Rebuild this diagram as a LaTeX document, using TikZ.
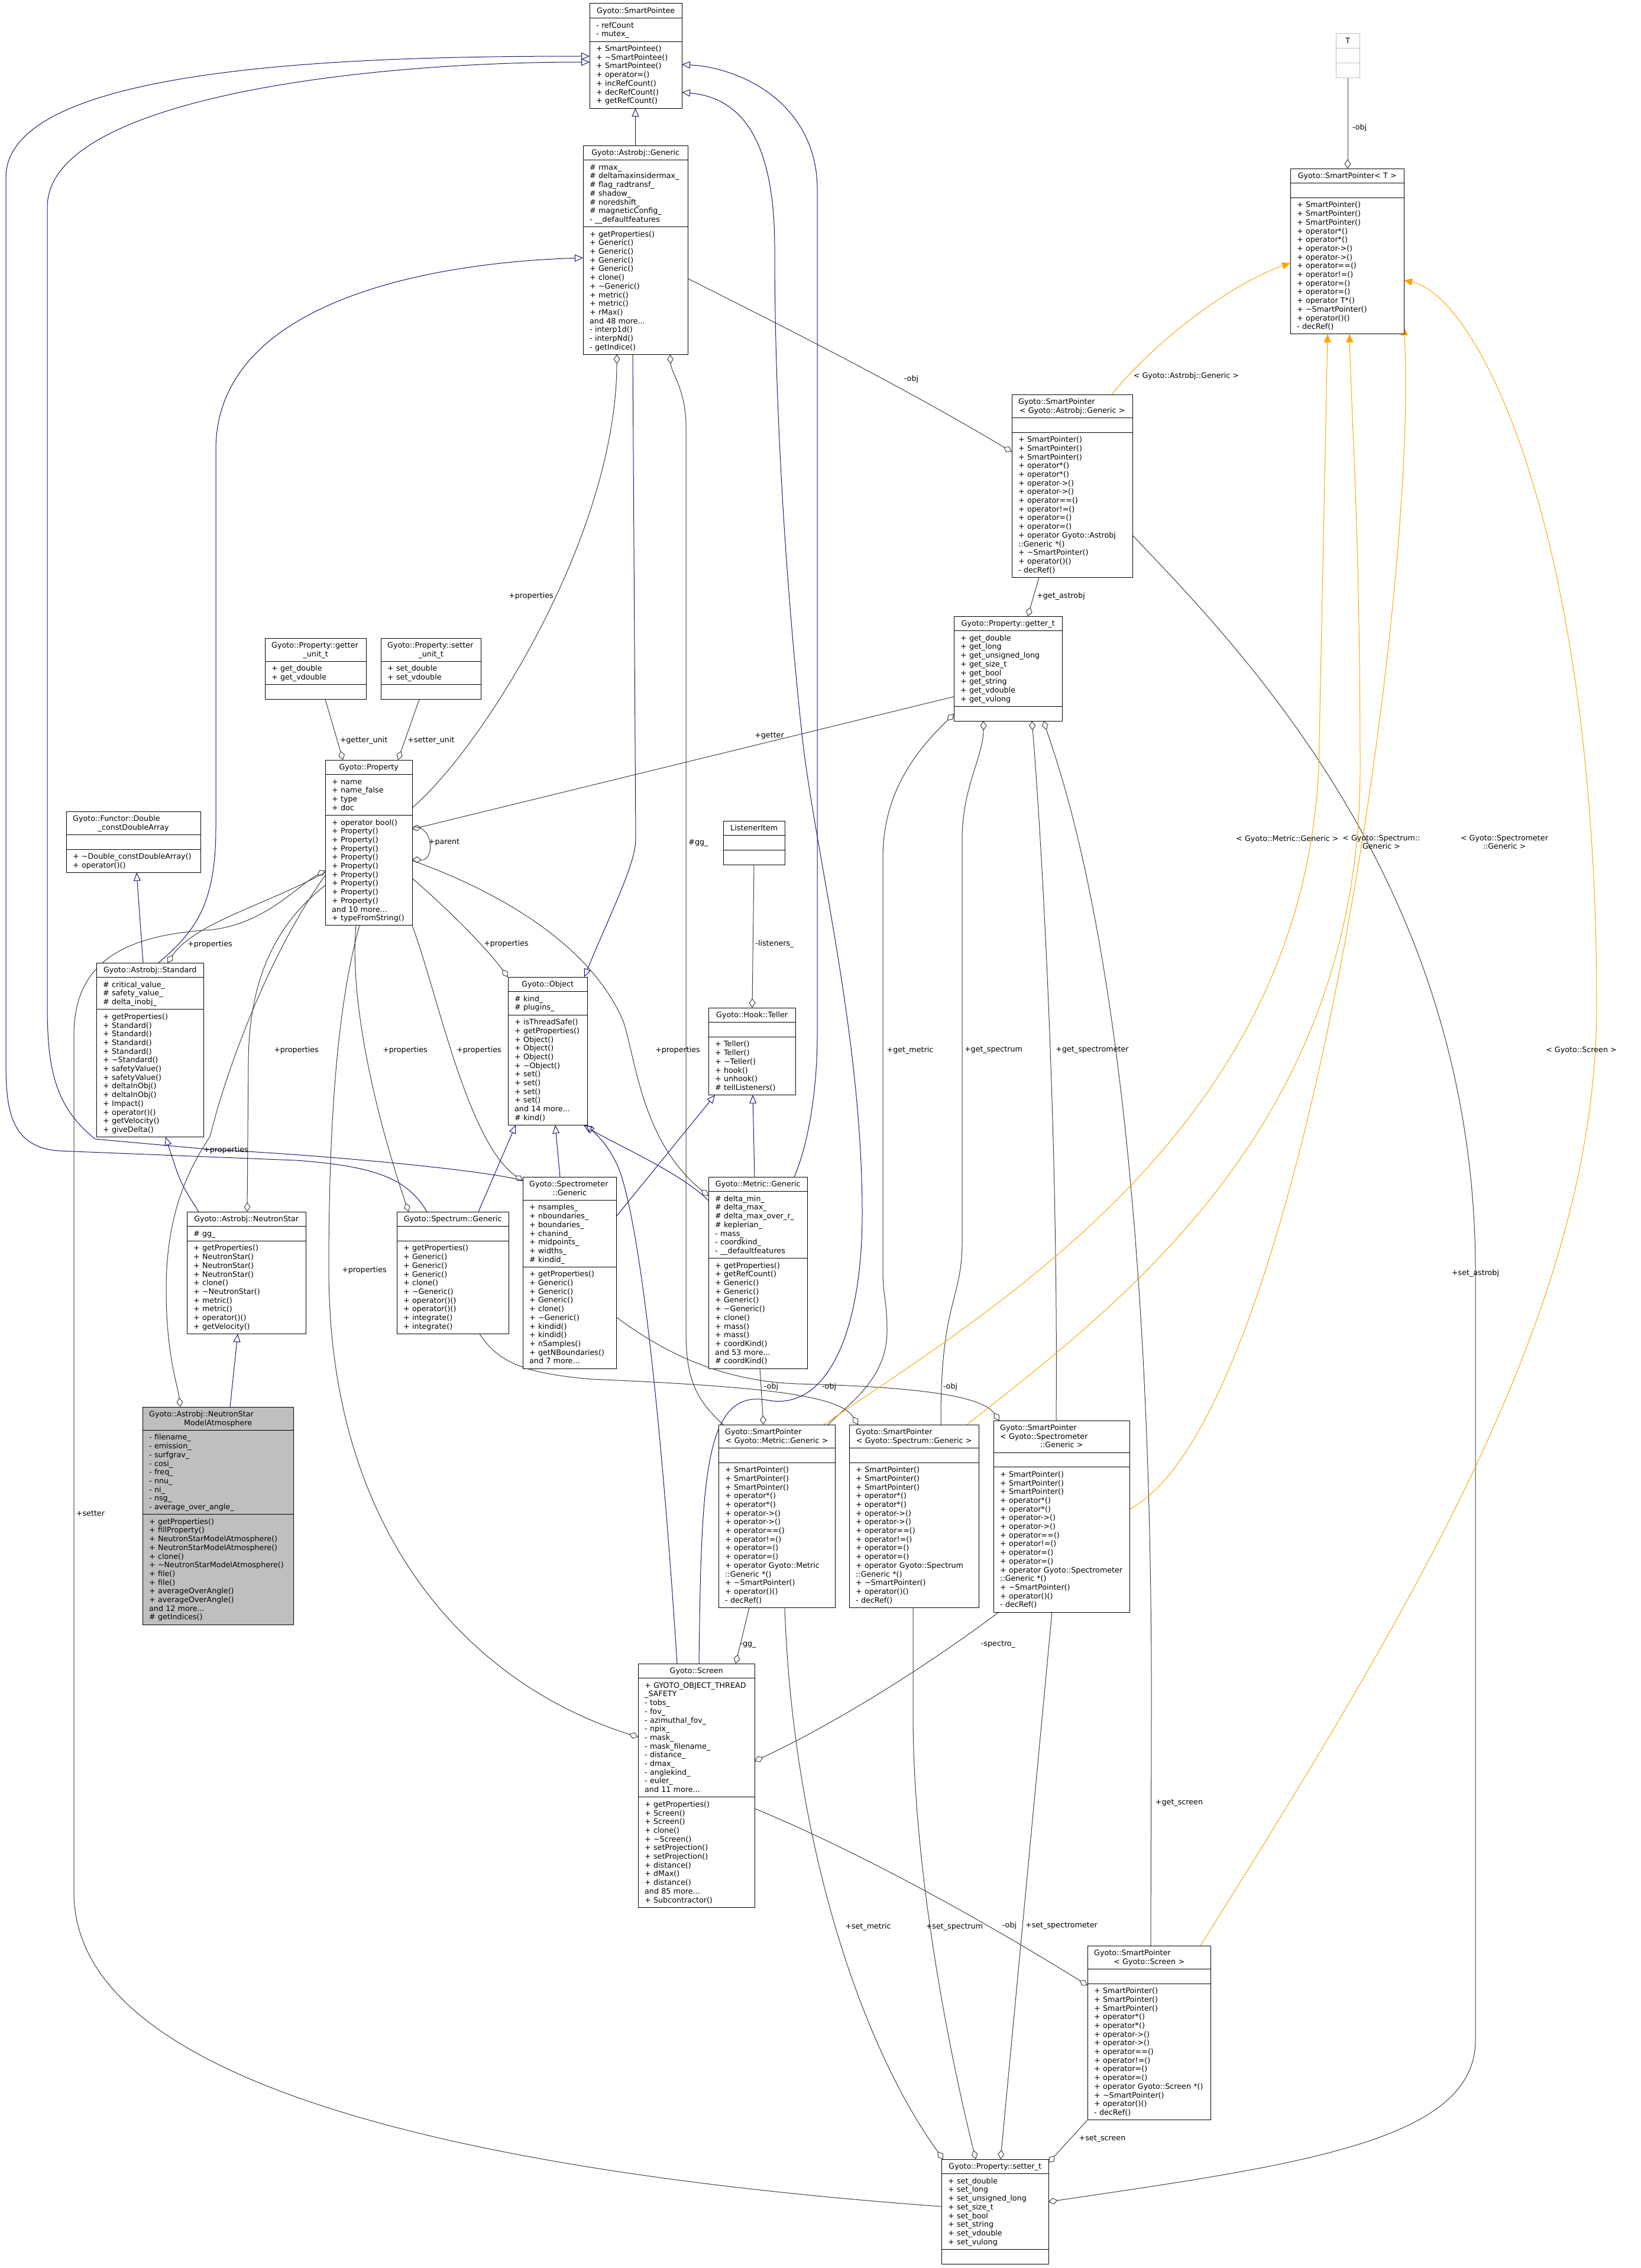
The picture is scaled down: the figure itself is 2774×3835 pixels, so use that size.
\documentclass[tikz,border=0pt]{standalone}
\usepackage{fontspec}
\setmainfont{DejaVu Sans}
\usetikzlibrary{arrows.meta,calc}
\pgfdeclarelayer{background}
\pgfdeclarelayer{edges}
\pgfsetlayers{background,edges,main}
\definecolor{navy}{HTML}{191970}
\definecolor{egrey}{HTML}{404040}
\definecolor{tmplc}{HTML}{FFA500}
\definecolor{tgrey}{HTML}{BFBFBF}
\definecolor{gfill}{HTML}{BFBFBF}
\newcommand\clsfont{\fontsize{12.7}{14.7}\selectfont\lineskiplimit=-20pt\parindent=0pt}
\newcommand\strutA{\rule{0pt}{11.3pt}}
\newcommand\tld{\textasciitilde}
\newcommand\ctr[1]{\makebox[\hsize]{#1}}
\def\umlparse#1,#2,#3\relax{\def\ux{#1}\def\uy{#2}\def\uw{#3}}
\def\umlparseN#1,#2,#3\relax{\def\una{#1}\def\unb{#2}\def\unc{#3}}
% #1 name, #2 x,y,w  #3 n1,n2,n3  #4 style  #5 title #6 attrs #7 methods
\newcommand{\umlclass}[7]{%
  \umlparse#2\relax\umlparseN#3\relax
  \pgfmathsetmacro\uHa{\una*14.7+10}%
  \pgfmathsetmacro\uHb{\unb*14.7+10}%
  \pgfmathsetmacro\uHc{\unc*14.7+10}%
  \pgfmathsetmacro\uHt{\uHa+\uHb+\uHc}%
  \pgfmathsetmacro\uYb{\uy+\uHa}%
  \pgfmathsetmacro\uYc{\uy+\uHa+\uHb}%
  \pgfmathsetmacro\uTw{\uw-22}%
  \pgfmathsetmacro\uLw{\uw+100}%
  \node[cls,#4,minimum width=\uw pt,minimum height=\uHt pt] (#1) at (\ux,\uy) {};
  \draw[clsline,#4] (\ux,\uYb) -- ++(\uw,0);
  \draw[clsline,#4] (\ux,\uYc) -- ++(\uw,0);
  \node[txt,text width=\uTw pt] (#1-t) at (\ux+11,\uy+5) {\strutA#5};
  \node[txt,text width=\uLw pt] (#1-a) at (\ux+11,\uYb+5) {\strutA#6};
  \node[txt,text width=\uLw pt] (#1-m) at (\ux+11,\uYc+5) {\strutA#7};
}
\newcommand\spmethods[1]{+ SmartPointer()\\+ SmartPointer()\\+ SmartPointer()\\+ operator*()\\+ operator*()\\+ operator->()\\+ operator->()\\+ operator==()\\+ operator!=()\\+ operator=()\\+ operator=()\\#1\\+ \tld SmartPointer()\\+ operator()()\\- decRef()}
\tikzset{
  cls/.style={draw=black,line width=1.0pt,fill=white,inner sep=0pt,outer sep=0pt,anchor=north west},
  clsline/.style={draw=black,line width=1.0pt},
  txt/.style={inner sep=0pt,anchor=north west,align=left,font=\clsfont},
  lbl/.style={inner sep=0pt,font=\clsfont,align=center},
  inh/.style={draw=navy,line width=1.0pt,-{Triangle[open,length=14pt,width=12pt]}},
  agg/.style={draw=egrey,line width=1.0pt,-{Diamond[open,length=16pt,width=11pt]}},
  tmpl/.style={draw=tmplc,line width=1.0pt,-{Triangle[length=14pt,width=12pt]}},
}
\begin{document}
\begin{tikzpicture}[x=1pt,y=-1pt]
\begin{pgfonlayer}{background}
\fill[white] (0,0) rectangle (2774,3835);
\end{pgfonlayer}
\useasboundingbox (0,0) rectangle (2774,3835);

% ---------------- classes ----------------
\umlclass{spee}{997,6,156}{1,2,7}{fill=white}{\ctr{Gyoto::SmartPointee}}{- refCount\\- mutex\_}{+ SmartPointee()\\+ \tld SmartPointee()\\+ SmartPointee()\\+ operator=()\\+ incRefCount()\\+ decRefCount()\\+ getRefCount()}
\umlclass{ag}{986,246,177}{1,7,14}{fill=white}{\ctr{Gyoto::Astrobj::Generic}}{\# rmax\_\\\# deltamaxinsidermax\_\\\# flag\_radtransf\_\\\# shadow\_\\\# noredshift\_\\\# magneticConfig\_\\- \_\_defaultfeatures}{+ getProperties()\\+ Generic()\\+ Generic()\\+ Generic()\\+ Generic()\\+ clone()\\+ \tld Generic()\\+ metric()\\+ metric()\\+ rMax()\\and 48 more...\\- interp1d()\\- interpNd()\\- getIndice()}
\umlclass{tt}{2259,57,40}{1,1,1}{draw=tgrey}{\ctr{T}}{}{}
\umlclass{spt}{2182,285,192}{1,1,15}{fill=white}{\ctr{Gyoto::SmartPointer< T >}}{}{+ SmartPointer()\\+ SmartPointer()\\+ SmartPointer()\\+ operator*()\\+ operator*()\\+ operator->()\\+ operator->()\\+ operator==()\\+ operator!=()\\+ operator=()\\+ operator=()\\+ operator T*()\\+ \tld SmartPointer()\\+ operator()()\\- decRef()}
\umlclass{spag}{1711,667,204}{2,1,16}{fill=white}{Gyoto::SmartPointer\\\ctr{< Gyoto::Astrobj::Generic >}}{}{\spmethods{+ operator Gyoto::Astrobj\\::Generic *()}}
\umlclass{gett}{1613,1042,183}{1,8,1}{fill=white}{\ctr{Gyoto::Property::getter\_t}}{+ get\_double\\+ get\_long\\+ get\_unsigned\_long\\+ get\_size\_t\\+ get\_bool\\+ get\_string\\+ get\_vdouble\\+ get\_vulong}{}
\umlclass{gu}{448,1079,171}{2,2,1}{fill=white}{Gyoto::Property::getter\\\ctr{\_unit\_t}}{+ get\_double\\+ get\_vdouble}{}
\umlclass{su}{644,1079,169}{2,2,1}{fill=white}{Gyoto::Property::setter\\\ctr{\_unit\_t}}{+ set\_double\\+ set\_vdouble}{}
\umlclass{prop}{550,1285,147}{1,4,12}{fill=white}{\ctr{Gyoto::Property}}{+ name\\+ name\_false\\+ type\\+ doc}{+ operator bool()\\+ Property()\\+ Property()\\+ Property()\\+ Property()\\+ Property()\\+ Property()\\+ Property()\\+ Property()\\+ Property()\\and 10 more...\\+ typeFromString()}
\umlclass{func}{112,1372,227}{2,1,2}{fill=white}{Gyoto::Functor::Double\\\ctr{\_constDoubleArray}}{}{+ \tld Double\_constDoubleArray()\\+ operator()()}
\umlclass{std}{163,1628,181}{1,3,14}{fill=white}{\ctr{Gyoto::Astrobj::Standard}}{\# critical\_value\_\\\# safety\_value\_\\\# delta\_inobj\_}{+ getProperties()\\+ Standard()\\+ Standard()\\+ Standard()\\+ Standard()\\+ \tld Standard()\\+ safetyValue()\\+ safetyValue()\\+ deltaInObj()\\+ deltaInObj()\\+ Impact()\\+ operator()()\\+ getVelocity()\\+ giveDelta()}
\umlclass{obj}{859,1652,134}{1,2,12}{fill=white}{\ctr{Gyoto::Object}}{\# kind\_\\\# plugins\_}{+ isThreadSafe()\\+ getProperties()\\+ Object()\\+ Object()\\+ Object()\\+ \tld Object()\\+ set()\\+ set()\\+ set()\\+ set()\\and 14 more...\\\# kind()}
\umlclass{li}{1223,1388,104}{1,1,1}{fill=white}{\ctr{ListenerItem}}{}{}
\umlclass{tel}{1198,1704,147}{1,1,6}{fill=white}{\ctr{Gyoto::Hook::Teller}}{}{+ Teller()\\+ Teller()\\+ \tld Teller()\\+ hook()\\+ unhook()\\\# tellListeners()}
\umlclass{ns}{316,2049,201}{1,1,10}{fill=white}{\ctr{Gyoto::Astrobj::NeutronStar}}{\# gg\_}{+ getProperties()\\+ NeutronStar()\\+ NeutronStar()\\+ NeutronStar()\\+ clone()\\+ \tld NeutronStar()\\+ metric()\\+ metric()\\+ operator()()\\+ getVelocity()}
\umlclass{spec}{671,2049,189}{1,1,10}{fill=white}{\ctr{Gyoto::Spectrum::Generic}}{}{+ getProperties()\\+ Generic()\\+ Generic()\\+ Generic()\\+ clone()\\+ \tld Generic()\\+ operator()()\\+ operator()()\\+ integrate()\\+ integrate()}
\umlclass{sm}{884,1990,158}{2,7,11}{fill=white}{Gyoto::Spectrometer\\\ctr{::Generic}}{+ nsamples\_\\+ nboundaries\_\\+ boundaries\_\\+ chanind\_\\+ midpoints\_\\+ widths\_\\\# kindid\_}{+ getProperties()\\+ Generic()\\+ Generic()\\+ Generic()\\+ clone()\\+ \tld Generic()\\+ kindid()\\+ kindid()\\+ nSamples()\\+ getNBoundaries()\\and 7 more...}
\umlclass{met}{1198,1990,167}{1,7,12}{fill=white}{\ctr{Gyoto::Metric::Generic}}{\# delta\_min\_\\\# delta\_max\_\\\# delta\_max\_over\_r\_\\\# keplerian\_\\- mass\_\\- coordkind\_\\- \_\_defaultfeatures}{+ getProperties()\\+ getRefCount()\\+ Generic()\\+ Generic()\\+ Generic()\\+ \tld Generic()\\+ clone()\\+ mass()\\+ mass()\\+ coordKind()\\and 53 more...\\\# coordKind()}
\umlclass{nsma}{241,2379,255}{2,9,12}{fill=gfill}{Gyoto::Astrobj::NeutronStar\\\ctr{ModelAtmosphere}}{- filename\_\\- emission\_\\- surfgrav\_\\- cosi\_\\- freq\_\\- nnu\_\\- ni\_\\- nsg\_\\- average\_over\_angle\_}{+ getProperties()\\+ fillProperty()\\+ NeutronStarModelAtmosphere()\\+ NeutronStarModelAtmosphere()\\+ clone()\\+ \tld NeutronStarModelAtmosphere()\\+ file()\\+ file()\\+ averageOverAngle()\\+ averageOverAngle()\\and 12 more...\\\# getIndices()}
\umlclass{spm}{1215,2409,197}{2,1,16}{fill=white}{Gyoto::SmartPointer\\\ctr{< Gyoto::Metric::Generic >}}{}{\spmethods{+ operator Gyoto::Metric\\::Generic *()}}
\umlclass{sps}{1436,2409,219}{2,1,16}{fill=white}{Gyoto::SmartPointer\\\ctr{< Gyoto::Spectrum::Generic >}}{}{\spmethods{+ operator Gyoto::Spectrum\\::Generic *()}}
\umlclass{spsm}{1680,2402,230}{3,1,16}{fill=white}{Gyoto::SmartPointer\\< Gyoto::Spectrometer\\\ctr{::Generic >}}{}{\spmethods{+ operator Gyoto::Spectrometer\\::Generic *()}}
\umlclass{scr}{1079,2813,197}{1,13,12}{fill=white}{\ctr{Gyoto::Screen}}{+ GYOTO\_OBJECT\_THREAD\\\_SAFETY\\- tobs\_\\- fov\_\\- azimuthal\_fov\_\\- npix\_\\- mask\_\\- mask\_filename\_\\- distance\_\\- dmax\_\\- anglekind\_\\- euler\_\\and 11 more...}{+ getProperties()\\+ Screen()\\+ Screen()\\+ clone()\\+ \tld Screen()\\+ setProjection()\\+ setProjection()\\+ distance()\\+ dMax()\\+ distance()\\and 85 more...\\+ Subcontractor()}
\umlclass{spscr}{1839,3290,208}{2,1,15}{fill=white}{Gyoto::SmartPointer\\\ctr{< Gyoto::Screen >}}{}{\spmethods{+ operator Gyoto::Screen *()}}
\umlclass{sett}{1592,3651,181}{1,8,1}{fill=white}{\ctr{Gyoto::Property::setter\_t}}{+ set\_double\\+ set\_long\\+ set\_unsigned\_long\\+ set\_size\_t\\+ set\_bool\\+ set\_string\\+ set\_vdouble\\+ set\_vulong}{}

% ---------------- edges ----------------
\begin{pgfonlayer}{edges}
% inheritance
\draw[inh] (ag.north) -- (ag.north |- spee.south);
\draw[inh] ([xshift=105pt]std.north west) .. controls (330,1575) and (365,1530) .. (365,1400) -- (365,760) .. controls (365,520) and (700,445) .. ([yshift=-190pt]ag.north west);
\draw[inh] ([xshift=79pt]std.north west) -- ([xshift=119pt]func.south west);
\draw[inh] ([xshift=20pt]ns.north west) .. controls (305,2000) .. ([xshift=117pt]std.south west);
\draw[inh] ([xshift=148pt]nsma.north west) -- ([xshift=86pt]ns.south west);
\draw[inh] ([xshift=138pt]spec.north west) -- ([xshift=13pt]obj.south west);
\draw[inh] ([xshift=63pt]sm.north west) -- ([xshift=80pt]obj.south west);
\draw[inh] ([yshift=-67pt]sm.north east) -- ([xshift=11pt]tel.south west);
\draw[inh] ([yshift=-40pt]met.north west) .. controls (1150,1982) and (1040,1935) .. ([xshift=-6pt]obj.south east);
\draw[inh] ([xshift=78pt]met.north west) -- ([xshift=75pt]tel.south west);
\draw[inh] ([xshift=145pt]met.north west) .. controls (1365,1940) and (1382,1850) .. (1382,1750) -- (1382,320) .. controls (1382,180) and (1260,115) .. ([yshift=-103pt]spee.north east);
\draw[inh] ([xshift=103pt]scr.north west) .. controls (1186,2500) and (1190,2345) .. (1300,2368) .. controls (1400,2385) and (1458,2250) .. (1458,2053) .. controls (1458,1750) and (1380,1450) .. (1357,1250) .. controls (1330,1000) and (1310,700) .. (1310,420) .. controls (1310,230) and (1250,165) .. ([yshift=-150pt]spee.north east);
\draw[inh] ([xshift=66pt]scr.north west) .. controls (1125,2500) and (1090,2100) .. (1048,1980) .. controls (1030,1935) and (1005,1915) .. ([xshift=-2pt]obj.south east);
\draw[inh] ([xshift=84pt]ag.south west) -- (1075,1420) .. controls (1075,1460) and (1030,1550) .. ([xshift=129pt]obj.north west);
\draw[inh] ([xshift=51pt]spec.north west) .. controls (690,1995) and (640,1972) .. (500,1962) -- (100,1946) .. controls (20,1940) and (10,1880) .. (10,1800) -- (10,300) .. controls (10,110) and (600,95) .. ([yshift=-89pt]spee.north west);
\draw[inh] ([yshift=-6pt]sm.north west) .. controls (800,1975) and (500,1950) .. (360,1944) -- (161,1926) .. controls (90,1870) and (80,1800) .. (80,1700) -- (80,350) .. controls (80,170) and (600,105) .. ([yshift=-99pt]spee.north west);
% aggregation
\draw[agg] (tt.south) -- (tt.south |- spt.north);
\draw[agg] ([yshift=-225pt]ag.north east) .. controls (1320,550) and (1520,650) .. ([yshift=-97pt]spag.north west);
\draw[agg] ([xshift=46pt]spag.south west) -- ([xshift=125pt]gett.north west);
\draw[agg] ([yshift=-136pt]gett.north west) -- ([yshift=-117pt]prop.north east);
\draw[agg] ([xshift=102pt]gu.south west) -- ([xshift=30pt]prop.north west);
\draw[agg] ([xshift=65pt]su.south west) -- ([xshift=123pt]prop.north west);
\draw[agg] ([yshift=-113pt]prop.north east) .. controls (735,1395) and (735,1456) .. ([yshift=-168pt]prop.north east);
\draw[agg] ([yshift=-81pt]prop.north east) .. controls (820,1260) and (1043,900) .. ([xshift=57pt]ag.south west);
\draw[agg] ([yshift=-190pt]prop.north west) .. controls (450,1530) and (330,1560) .. ([xshift=120pt]std.north west);
\draw[agg] ([yshift=-200pt]prop.north east) .. controls (760,1540) and (820,1600) .. (obj.north west);
\draw[agg] ([yshift=-212pt]prop.north west) .. controls (470,1560) and (420,1650) .. (420,1800) -- ([xshift=102pt]ns.north west);
\draw[agg] ([xshift=52pt]prop.south west) .. controls (590,1700) and (640,1900) .. ([xshift=20pt]spec.north west);
\draw[agg] (prop.south east) .. controls (740,1680) and (790,1930) .. ([yshift=-7pt]sm.north west);
\draw[agg] ([yshift=-170pt]prop.north east) .. controls (850,1510) and (1000,1600) .. (1054,1727) .. controls (1075,1790) and (1085,1930) .. ([yshift=-32pt]met.north west);
\draw[agg] ([yshift=-195pt]prop.north west) .. controls (450,1620) and (380,1820) .. (355,1922) .. controls (320,1975) and (281,2050) .. (281,2180) .. controls (281,2290) and (300,2340) .. ([xshift=64pt]nsma.north west);
\draw[agg] ([xshift=58pt]prop.south west) .. controls (570,1700) and (556,1900) .. (556,2147) .. controls (556,2600) and (800,2850) .. ([yshift=-124pt]scr.north west);
\draw[agg] ([yshift=-80pt]sett.north west) .. controls (900,3680) and (125,3550) .. (125,3200) -- (125,1750) .. controls (125,1620) and (220,1580) .. (360,1572) .. controls (450,1560) and (500,1500) .. ([yshift=-187pt]prop.north west);
\draw[agg] (li.south) -- ([xshift=74pt]tel.north west);
\draw[agg] ([xshift=87pt]met.south west) -- ([xshift=76pt]spm.north west);
\draw[agg] ([xshift=140pt]spec.south west) .. controls (840,2300) and (880,2322) .. (1000,2332) .. controls (1300,2345) and (1420,2360) .. ([xshift=15pt]sps.north west);
\draw[agg] ([yshift=-237pt]sm.north east) .. controls (1100,2270) and (1200,2335) .. (1350,2340) .. controls (1550,2345) and (1660,2360) .. ([xshift=10pt]spsm.north west);
\draw[agg] ([xshift=8pt]spm.north west) .. controls (1175,2365) and (1160,2330) .. (1160,2250) -- (1160,720) .. controls (1160,660) and (1135,630) .. ([xshift=147pt]ag.south west);
\draw[agg] ([xshift=52pt]spm.south west) -- ([xshift=165pt]scr.north west);
\draw[agg] ([xshift=9pt]spsm.south west) .. controls (1550,2830) and (1400,2920) .. ([yshift=-165pt]scr.north east);
\draw[agg] ([yshift=-245pt]scr.north east) .. controls (1450,3130) and (1650,3240) .. ([yshift=-67pt]spscr.north west);
\draw[agg] (spscr.south west) -- ([yshift=-6pt]sett.north east);
\draw[agg] ([xshift=107pt]spscr.north west) -- (1947,2900) .. controls (1950,1700) and (1790,1300) .. ([xshift=152pt]gett.south west);
\draw[agg] ([xshift=106pt]spsm.north west) .. controls (1790,1900) and (1760,1400) .. ([xshift=132pt]gett.south west);
\draw[agg] ([xshift=155pt]sps.north west) .. controls (1590,2200) and (1627,2200) .. (1627,2100) -- (1627,1420) .. controls (1627,1330) and (1663,1280) .. ([xshift=50pt]gett.south west);
\draw[agg] ([xshift=185pt]spm.north west) .. controls (1440,2370) and (1500,2330) .. (1500,2250) .. controls (1500,2200) and (1493,2190) .. (1493,2150) -- (1493,1450) .. controls (1493,1330) and (1560,1260) .. ([yshift=-165pt]gett.north west);
\draw[agg] ([xshift=112pt]spm.south west) .. controls (1340,3100) and (1450,3450) .. ([xshift=3pt]sett.north west);
\draw[agg] ([xshift=108pt]sps.south west) -- (1544,2900) .. controls (1544,3150) and (1600,3450) .. ([xshift=58pt]sett.north west);
\draw[agg] ([xshift=99pt]spsm.south west) -- ([xshift=100pt]sett.north west);
\draw[agg] ([yshift=-238pt]spag.north east) .. controls (2100,1100) and (2495,1500) .. (2495,2150) -- (2495,3450) .. controls (2495,3620) and (2200,3660) .. ([yshift=-72pt]sett.north east);
% template instances
\draw[tmpl] ([xshift=169pt]spag.north west) .. controls (1950,580) and (2080,480) .. ([yshift=-160pt]spt.north west);
\draw[tmpl] ([xshift=178pt]spm.north west) .. controls (1700,2200) and (2200,1900) .. (2230,1300) -- ([xshift=63pt]spt.south west);
\draw[tmpl] ([xshift=199pt]sps.north west) .. controls (1900,2200) and (2300,1900) .. (2300,1300) .. controls (2300,900) and (2285,700) .. ([xshift=100pt]spt.south west);
\draw[tmpl] ([yshift=-150pt]spsm.north east) .. controls (2200,2400) and (2400,1000) .. ([yshift=-268pt]spt.north east);
\draw[tmpl] ([xshift=191pt]spscr.north west) .. controls (2400,2700) and (2700,2200) .. (2700,1700) .. controls (2700,900) and (2500,500) .. ([yshift=-189pt]spt.north east);
\end{pgfonlayer}

% ---------------- labels ----------------
\node[lbl] (l1) at (2299,216) {-obj};
\node[lbl] (l2) at (1541,641) {-obj};
\node[lbl] (l3) at (1794,1008) {+get\_astrobj};
\node[lbl] (l4) at (1301,1244) {+getter};
\node[lbl] (l5) at (615,1252) {+getter\_unit};
\node[lbl] (l6) at (729,1252) {+setter\_unit};
\node[lbl] (l7) at (751,1424) {+parent};
\node[lbl] (l8) at (898,1008) {+properties};
\node[lbl] (l9) at (355,1597) {+properties};
\node[lbl] (l10) at (856,1596) {+properties};
\node[lbl] (l11) at (501,1776) {+properties};
\node[lbl] (l12) at (685,1776) {+properties};
\node[lbl] (l13) at (810,1776) {+properties};
\node[lbl] (l14) at (1146,1776) {+properties};
\node[lbl] (l15) at (382,1945) {+properties};
\node[lbl] (l16) at (616,2148) {+properties};
\node[lbl] (l17) at (153,2559) {+setter};
\node[lbl] (l18) at (1310,1596) {-listeners\_};
\node[lbl] (l19) at (1181,1425) {\#gg\_};
\node[lbl] (l20) at (1304,2345) {-obj};
\node[lbl] (l21) at (1402,2345) {-obj};
\node[lbl] (l22) at (1607,2345) {-obj};
\node[lbl] (l23) at (1265,2781) {-gg\_};
\node[lbl] (l24) at (1688,2781) {-spectro\_};
\node[lbl] (l25) at (1707,3256) {-obj};
\node[lbl] (l26) at (1864,3616) {+set\_screen};
\node[lbl] (l27) at (1994,3048) {+get\_screen};
\node[lbl] (l28) at (1847,1776) {+get\_spectrometer};
\node[lbl] (l29) at (1680,1776) {+get\_spectrum};
\node[lbl] (l30) at (1539,1776) {+get\_metric};
\node[lbl] (l31) at (1468,3258) {+set\_metric};
\node[lbl] (l32) at (1614,3258) {+set\_spectrum};
\node[lbl] (l33) at (1795,3256) {+set\_spectrometer};
\node[lbl] (l34) at (2495,2153) {+set\_astrobj};
\node[lbl] (l35) at (2006,636) {< Gyoto::Astrobj::Generic >};
\node[lbl] (l36) at (2177,1419) {< Gyoto::Metric::Generic >};
\node[lbl] (l37) at (2336,1424) {< Gyoto::Spectrum::\\Generic >};
\node[lbl] (l38) at (2544,1424) {< Gyoto::Spectrometer\\::Generic >};
\node[lbl] (l39) at (2674,1776) {< Gyoto::Screen >};
\end{tikzpicture}
\end{document}
